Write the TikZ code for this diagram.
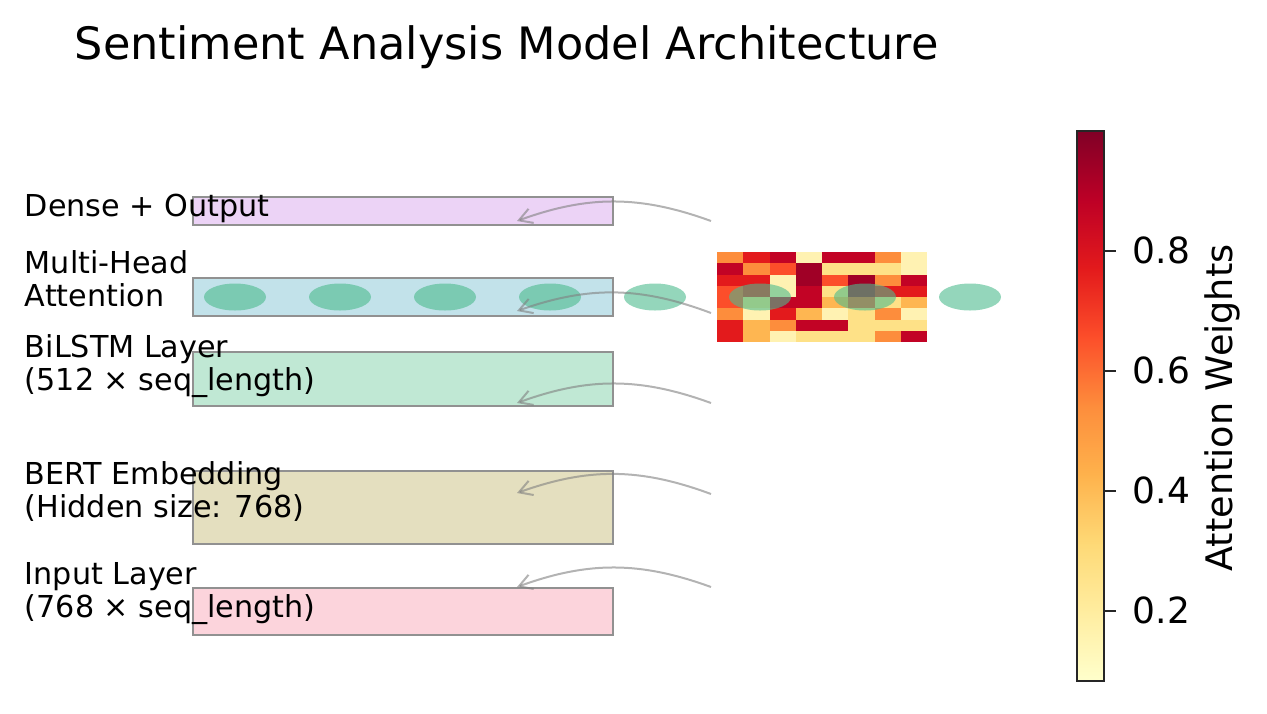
\documentclass[tikz,border=0pt]{standalone}
\usepackage{fontspec}
\setmainfont{DejaVu Sans}
\usetikzlibrary{shapes.geometric, arrows.meta, positioning}

\definecolor{densefill}{RGB}{236,211,246}
\definecolor{attnfill}{RGB}{194,226,234}
\definecolor{lstmfill}{RGB}{192,232,212}
\definecolor{bertfill}{RGB}{228,223,191}
\definecolor{inputfill}{RGB}{252,212,220}
\definecolor{boxedge}{RGB}{145,145,145}
\definecolor{headgreen}{RGB}{77,187,142}
% heatmap cell colours (YlOrRd)
\definecolor{hA}{HTML}{FFF2B2}
\definecolor{hB}{HTML}{FEE187}
\definecolor{hC}{HTML}{FEB651}
\definecolor{hD}{HTML}{FD8D3C}
\definecolor{hE}{HTML}{FC4E2A}
\definecolor{hF}{HTML}{E31A1C}
\definecolor{hG}{HTML}{C20325}
\definecolor{hH}{HTML}{A00026}
% colourbar stops
\definecolor{cb0}{HTML}{FFFFCC}
\definecolor{cb1}{HTML}{FFEDA0}
\definecolor{cb2}{HTML}{FED976}
\definecolor{cb3}{HTML}{FEB24C}
\definecolor{cb4}{HTML}{FD8D3C}
\definecolor{cb5}{HTML}{FC4E2A}
\definecolor{cb6}{HTML}{E31A1C}
\definecolor{cb7}{HTML}{BD0026}
\definecolor{cb8}{HTML}{800026}

\tikzset{
  layerbox/.style={draw=boxedge, line width=1pt, inner sep=0pt, minimum width=209.75pt},
  headdot/.style={ellipse, fill=headgreen, fill opacity=0.6, inner sep=0pt, minimum width=31pt, minimum height=13.5pt},
  flowarrow/.style={-{Straight Barb[length=6.5pt, width=7.5pt]}, draw=gray, opacity=0.6, line width=1pt},
  layertxt/.style={anchor=base west, inner sep=0pt, align=left, font=\fontsize{15.1pt}{16.5pt}\selectfont},
  ticktxt/.style={anchor=west, inner sep=0pt, font=\fontsize{18pt}{20pt}\selectfont},
}

\begin{document}
\begin{tikzpicture}[x=0.5pt, y=-0.5pt]
\useasboundingbox (0,0) rectangle (1267,713);

\node[anchor=base west, inner sep=0pt, font=\fontsize{22.3pt}{26pt}\selectfont] (title) at (74.5,59.5) {Sentiment Analysis Model Architecture};

% layers
\node[layerbox, fill=densefill, minimum height=14pt] (dense) at (402.75,211) {};
\node[layerbox, fill=attnfill, minimum height=19pt] (attn) at (402.75,297) {};
\node[layerbox, fill=lstmfill, minimum height=27pt] (lstm) at (402.75,379) {};
\node[layerbox, fill=bertfill, minimum height=36.5pt] (bert) at (402.75,507.5) {};
\node[layerbox, fill=inputfill, minimum height=23.5pt] (input) at (402.75,611.5) {};

% attention weights
\foreach \row [count=\r from 0] in {{hD,hF,hG,hA,hG,hG,hD,hA},{hG,hD,hE,hH,hB,hB,hB,hA},{hF,hF,hA,hH,hE,hH,hD,hG},{hE,hF,hA,hG,hB,hH,hF,hF},{hE,hB,hG,hG,hC,hE,hB,hC},{hD,hA,hF,hC,hA,hB,hD,hA},{hF,hC,hD,hG,hG,hB,hB,hB},{hF,hC,hA,hB,hB,hB,hD,hG}}{
  \foreach \cell [count=\c from 0] in \row {
    \fill[\cell] (717+26.25*\c,252+11.25*\r) rectangle ++(26.3,11.3);
  }
}

% heads
\foreach \k in {0,...,7}
  \node[headdot] (head\k) at (235+105*\k,297) {};

% flow
\coordinate (densesrc) at (711,221);  \coordinate (densein) at (517,221);
\coordinate (attnsrc) at (711,313);   \coordinate (attnin) at (517,311);
\coordinate (lstmsrc) at (711,403);   \coordinate (lstmin) at (517,403);
\coordinate (bertsrc) at (711,494);   \coordinate (bertin) at (517,493);
\coordinate (inputsrc) at (711,587);  \coordinate (inputin) at (517,587);
\draw[flowarrow] (densesrc) to[bend right=20] (densein);
\draw[flowarrow] (attnsrc) to[bend right=20] (attnin);
\draw[flowarrow] (lstmsrc) to[bend right=20] (lstmin);
\draw[flowarrow] (bertsrc) to[bend right=20] (bertin);
\draw[flowarrow] (inputsrc) to[bend right=20] (inputin);

\node[layertxt] (densetxt) at (24.5,216) {Dense + Output};
\node[layertxt] (attntxt) at (24.5,306.5) {Multi-Head\\Attention};
\node[layertxt] (lstmtxt) at (24.5,390) {BiLSTM Layer\\(512 × seq\_length)};
\node[layertxt] (berttxt) at (24.5,517) {BERT Embedding\\(Hidden size: 768)};
\node[layertxt] (inputtxt) at (24.5,617) {Input Layer\\(768 × seq\_length)};

% colourbar
\foreach \lo/\hi [count=\k from 0] in {cb0/cb1,cb1/cb2,cb2/cb3,cb3/cb4,cb4/cb5,cb5/cb6,cb6/cb7,cb7/cb8}
  \shade[bottom color=\lo, top color=\hi] (1077,681-68.75*\k+0.4) rectangle (1104,681-68.75*\k-69.15);
\draw[line width=1pt, black!85] (1077,131) rectangle (1104,681);
\foreach \v/\yy [count=\k] in {0.2/610.7,0.4/490.7,0.6/370.7,0.8/250.7}{
  \draw[line width=1pt, black!85] (1104,\yy) -- (1116,\yy);
  \node[ticktxt] (tick\k) at (1132.5,\yy) {\v};
}
\node[rotate=90, anchor=base, inner sep=0pt, font=\fontsize{18.3pt}{20pt}\selectfont] (cbtitle) at (1232,408) {Attention Weights};
\end{tikzpicture}
\end{document}
